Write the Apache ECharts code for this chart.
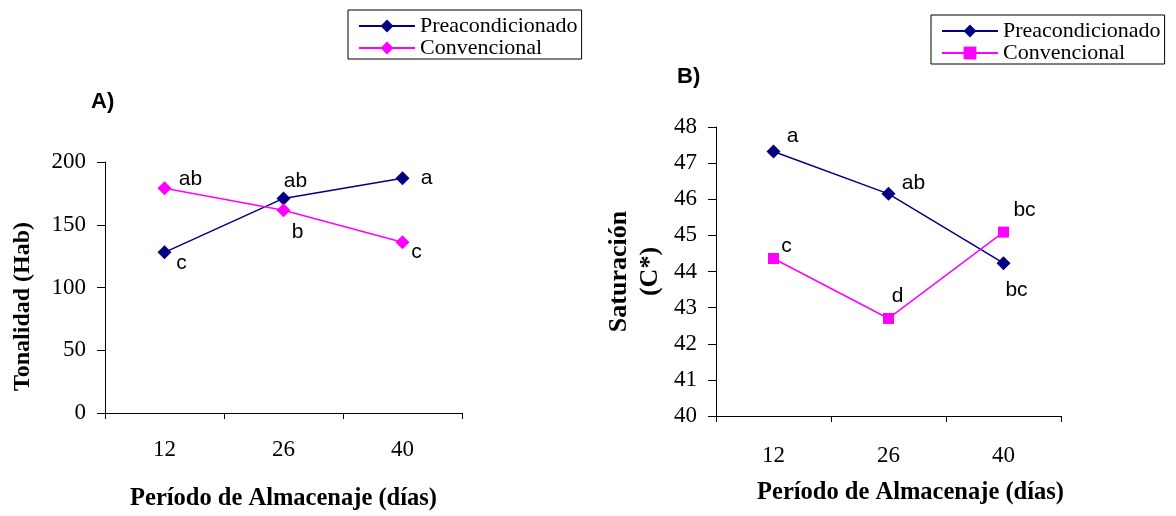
<!DOCTYPE html>
<html>
<head>
<meta charset="utf-8">
<script src="https://cdn.jsdelivr.net/npm/echarts@6/dist/echarts.min.js"></script>
<style>
  html, body { margin: 0; padding: 0; background: #fff; }
  #chart { width: 1176px; height: 516px; }
</style>
</head>
<body>
<div id="chart"></div>
<script>
const days = ['12', '26', '40'];

// A) tonalidad (Hab)
const hueYTicks = [0, 50, 100, 150, 200];
const huePre = [128, 171, 187];
const hueConv = [179, 161.5, 136];
const hueLettersPre = ['c', 'ab', 'a'];
const hueLettersConv = ['ab', 'b', 'c'];

// B) saturacion (C*)
const satYTicks = [40, 41, 42, 43, 44, 45, 46, 47, 48];
const satPre = [47.32, 46.15, 44.23];
const satConv = [44.36, 42.7, 45.09];
const satLettersPre = ['a', 'ab', 'bc'];
const satLettersConv = ['c', 'd', 'bc'];

// label offsets (style only)
const offHuePre = [[17, 11], [12, -17], [24, 0]];
const offHueConv = [[26, -9], [14, 22], [14, 10]];
const offSatPre = [[19, -15], [25, -11], [13, 27]];
const offSatConv = [[13, -12], [9, -22], [21, -22]];

const NAVY = '#000080';
const MAGENTA = '#ff00ff';
const SERIF = '"Liberation Serif", "Times New Roman", serif';
const SANS = '"Liberation Sans", Arial, sans-serif';

const withLetters = (values, letters, offsets) =>
    values.map((v, i) => ({
        value: v,
        label: { formatter: letters[i], offset: offsets[i] },
    }));

const lineSeries = (name, idx, color, symbol, size, values, letters, offsets) => ({
    name: name,
    type: 'line',
    xAxisIndex: idx,
    yAxisIndex: idx,
    data: withLetters(values, letters, offsets),
    symbol: symbol,
    symbolSize: size,
    color: color,
    lineStyle: { color: color, width: 1.5 },
    itemStyle: { color: color },
    label: {
        show: true,
        position: 'inside',
        fontFamily: SANS,
        fontSize: 21,
        color: '#000',
    },
    emphasis: { disabled: true },
    animation: false,
});

const legendBase = (left, top, names, pad, lh) => ({
    left: left,
    top: top,
    orient: 'vertical',
    data: names,
    formatter: (n) => n.trim(),
    itemWidth: 56,
    itemHeight: 16,
    itemGap: 0,
    padding: pad,
    borderColor: '#000',
    borderWidth: 1,
    borderRadius: 0,
    selectedMode: false,
    textStyle: { fontFamily: SERIF, fontSize: 22, lineHeight: lh, color: '#000' },
});

const xAxisBase = (idx, nameGap, margin, namePad) => ({
    gridIndex: idx,
    type: 'category',
    data: days,
    boundaryGap: true,
    name: 'Período de Almacenaje (días)',
    nameLocation: 'middle',
    nameGap: nameGap,
    nameTextStyle: { fontFamily: SERIF, fontSize: 24.5, fontWeight: 'bold', color: '#000', padding: namePad },
    axisLine: { lineStyle: { color: '#000', width: 1 } },
    axisTick: { show: true, length: 6, inside: false, lineStyle: { color: '#000' } },
    axisLabel: { fontFamily: SERIF, fontSize: 23, color: '#000', margin: margin },
    splitLine: { show: false },
});

const yAxisBase = (idx, ticks, name, nameGap, fontSize, namePad) => ({
    gridIndex: idx,
    type: 'value',
    min: ticks[0],
    max: ticks[ticks.length - 1],
    interval: ticks[1] - ticks[0],
    name: name,
    nameLocation: 'middle',
    nameRotate: 90,
    nameGap: nameGap,
    nameTextStyle: { fontFamily: SERIF, fontSize: fontSize, fontWeight: 'bold', color: '#000', lineHeight: 31, padding: namePad },
    axisLine: { show: true, lineStyle: { color: '#000', width: 1 } },
    axisTick: { show: true, length: 8, lineStyle: { color: '#000' } },
    axisLabel: { fontFamily: SERIF, fontSize: 23, color: '#000', margin: 19 },
    splitLine: { show: false },
});

const chart = echarts.init(document.getElementById('chart'), null, { renderer: 'canvas' });
chart.setOption({
    backgroundColor: '#fff',
    animation: false,
    title: [
        { text: 'A)', left: 91, top: 91, padding: 0, textStyle: { fontFamily: SANS, fontSize: 22, fontWeight: 'bold', color: '#000' } },
        { text: 'B)', left: 677, top: 66, padding: 0, textStyle: { fontFamily: SANS, fontSize: 22, fontWeight: 'bold', color: '#000' } },
    ],
    legend: [
        legendBase(348, 10, ['Preacondicionado', 'Convencional'], [5, 4, 0, 10], 20),
        legendBase(931, 15, ['Preacondicionado ', 'Convencional '], [5, 4, 0, 10], 21),
    ],
    grid: [
        { left: 105, top: 162, width: 357, height: 251, containLabel: false },
        { left: 716, top: 127, width: 345, height: 289, containLabel: false },
    ],
    xAxis: [xAxisBase(0, 73, 25, 0), xAxisBase(1, 64, 28, [0, 0, 0, 44])],
    yAxis: [
        yAxisBase(0, hueYTicks, 'Tonalidad (Hab)', 67, 24, [0, 38, 0, 0]),
        yAxisBase(1, satYTicks, 'Saturación\n(C*)', 50, 26, 0),
    ],
    series: [
        lineSeries('Preacondicionado', 0, NAVY, 'diamond', 14, huePre, hueLettersPre, offHuePre),
        lineSeries('Convencional', 0, MAGENTA, 'diamond', 14, hueConv, hueLettersConv, offHueConv),
        lineSeries('Preacondicionado ', 1, NAVY, 'diamond', 14, satPre, satLettersPre, offSatPre),
        lineSeries('Convencional ', 1, MAGENTA, 'rect', 11, satConv, satLettersConv, offSatConv),
    ],
});
</script>
</body>
</html>
